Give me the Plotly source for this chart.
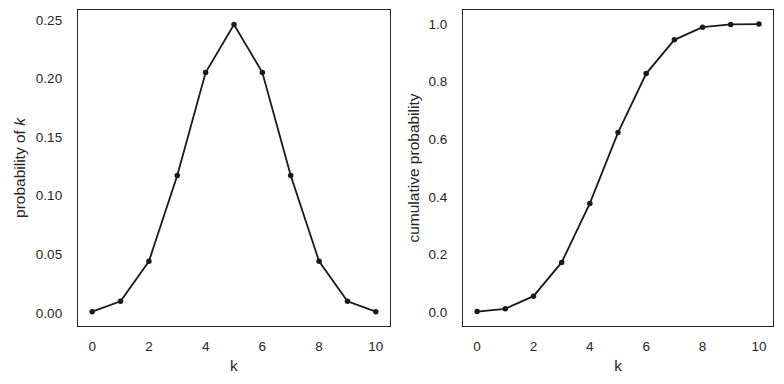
import plotly.graph_objects as go
from plotly.subplots import make_subplots

k = [0, 1, 2, 3, 4, 5, 6, 7, 8, 9, 10]
pmf = [0.000977, 0.009766, 0.043945, 0.117188, 0.205078, 0.246094,
       0.205078, 0.117188, 0.043945, 0.009766, 0.000977]
cdf = [0.000977, 0.010742, 0.054688, 0.171875, 0.376953, 0.623047,
       0.828125, 0.945313, 0.989258, 0.999023, 1.0]
xticks = [0, 2, 4, 6, 8, 10]

fig = make_subplots(rows=1, cols=2)
line_style = dict(color="#1a1a1a", width=1.8)
marker_style = dict(color="#1a1a1a", size=5.5)
fig.add_trace(go.Scatter(x=k, y=pmf, mode="lines+markers", line=line_style,
                         marker=marker_style, showlegend=False), row=1, col=1)
fig.add_trace(go.Scatter(x=k, y=cdf, mode="lines+markers", line=line_style,
                         marker=marker_style, showlegend=False), row=1, col=2)

FAM = "Liberation Sans, Arial, sans-serif"
tick_font = dict(family=FAM, size=13.5, color="#262626")
title_font = dict(family=FAM, size=15.5, color="#262626")
axis_common = dict(showgrid=False, zeroline=False, showline=True, mirror=True,
                   linecolor="#262626", linewidth=1.3, ticks="outside",
                   tickcolor="rgba(0,0,0,0)", tickfont=tick_font, automargin=False)

fig.update_xaxes(**axis_common, range=[-0.5, 10.5], tickvals=xticks, ticklen=8,
                 title=dict(text="k", font=title_font, standoff=6))
fig.update_xaxes(domain=[0, 0.4489], row=1, col=1)
fig.update_xaxes(domain=[0.554, 1], row=1, col=2)
fig.update_yaxes(**axis_common, ticklen=12)
fig.update_yaxes(range=[-0.01128, 0.2584], tickvals=[0, 0.05, 0.1, 0.15, 0.2, 0.25],
                 tickformat=".2f", row=1, col=1,
                 title=dict(text="probability of <i>k</i>", font=title_font, standoff=6))
fig.update_yaxes(range=[-0.049, 1.049], tickvals=[0, 0.2, 0.4, 0.6, 0.8, 1.0],
                 tickformat=".1f", row=1, col=2,
                 title=dict(text="cumulative probability", font=title_font, standoff=4))

fig.update_layout(width=784, height=384, margin=dict(l=78, r=11, t=10, b=58),
                  paper_bgcolor="white", plot_bgcolor="white", font=tick_font)
fig.write_html("out.html", config={"displayModeBar": False},
               post_script="document.body.style.margin='0';document.body.style.overflow='hidden';")
